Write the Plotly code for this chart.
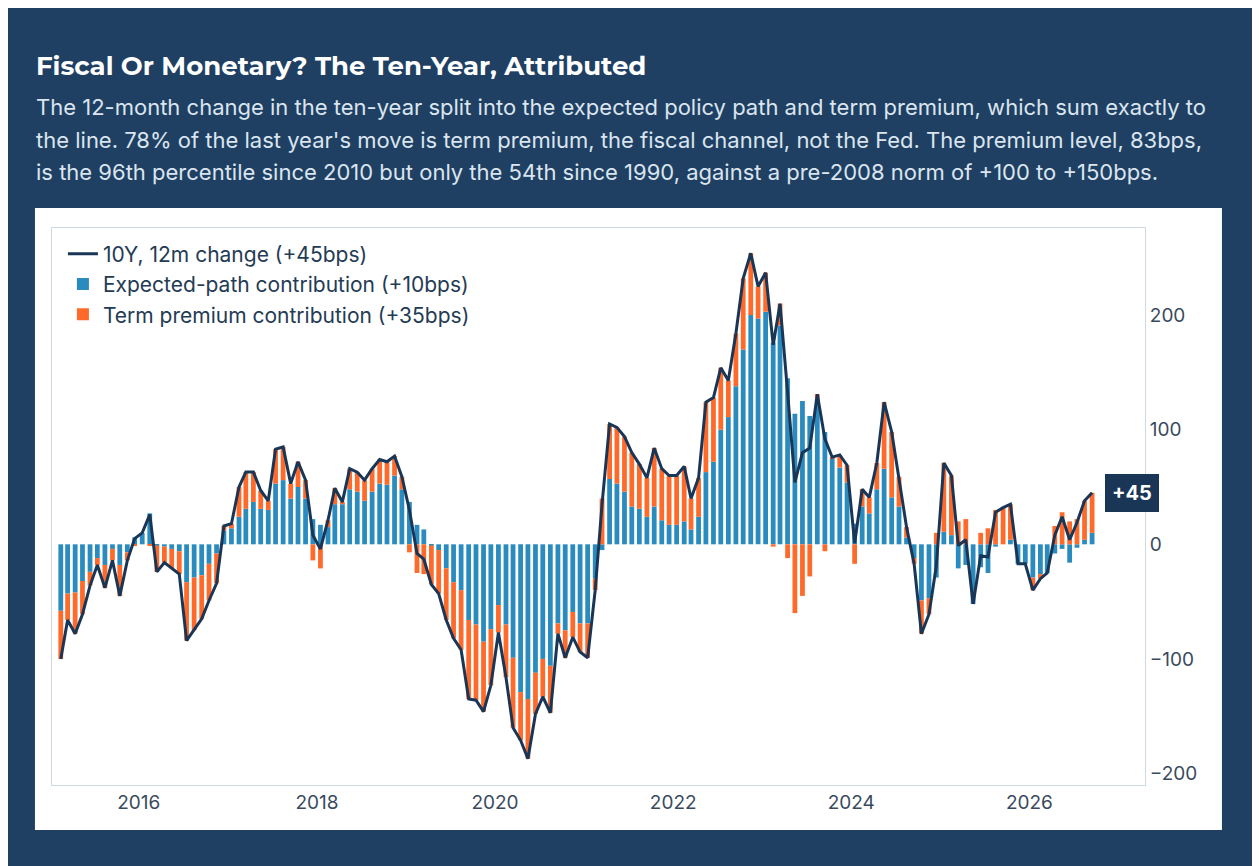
import pandas as pd
import plotly.graph_objects as go

# monthly dates, Jan 2015 .. Aug 2026
months = pd.date_range("2015-01-15", periods=140, freq="MS") + pd.Timedelta(days=14)

total = [
    -100, -66, -78, -61, -36, -18, -38, -14, -45, -14, 5, 10,
    26, -24, -16, -21, -26, -84, -75, -65, -49, -34, 16, 18,
    50, 63, 63, 47, 38, 83, 85, 53, 72, 56, 8, -4,
    21, 49, 37, 66, 63, 56, 66, 74, 72, 77, 59, 30,
    -8, -13, -35, -43, -66, -82, -92, -135, -136, -146, -123, -77,
    -116, -160, -171, -187, -148, -133, -147, -78, -99, -81, -94, -99,
    -40, 35, 105, 102, 94, 80, 70, 58, 84, 66, 60, 60,
    68, 40, 58, 124, 128, 154, 143, 184, 232, 254, 225, 237,
    174, 210, 133, 54, 80, 84, 131, 92, 76, 78, 69, 1,
    48, 41, 71, 124, 98, 59, 15, -17, -78, -61, -19, 71,
    60, -1, 4, -52, -10, -11, 28, 32, 35, -17, -17, -40,
    -30, -25, 8, 24, 4, 19, 38, 45,
]
expected = [
    -58, -43, -42, -32, -24, -12, -18, -4, -18, -7, 6, 10,
    27, -1, -2, -4, -6, -33, -29, -27, -17, -8, 12, 14,
    24, 31, 37, 31, 30, 53, 56, 40, 50, 40, 22, 17,
    15, 35, 35, 48, 46, 38, 46, 53, 52, 60, 48, 37,
    17, 13, -1, -5, -21, -33, -40, -66, -70, -85, -74, -53,
    -70, -99, -129, -135, -112, -100, -106, -69, -75, -59, -69, -69,
    -30, -5, 57, 53, 46, 33, 31, 24, 33, 21, 17, 17,
    20, 13, 24, 63, 72, 100, 111, 138, 170, 200, 197, 203,
    176, 191, 145, 114, 125, 112, 127, 98, 75, 67, 54, 18,
    33, 27, 48, 66, 41, 33, 6, -12, -49, -47, -29, 11,
    8, -21, -18, -52, -20, -25, -2, 0, 4, -17, -17, -29,
    -26, -25, -8, -4, -16, -3, 4, 10,
]
term = [t - e for t, e in zip(total, expected)]

subtitle_lines = [
    "The 12-month change in the ten-year split into the expected policy path and term premium, which sum exactly to",
    "the line. 78% of the last year's move is term premium, the fiscal channel, not the Fed. The premium level, 83bps,",
    "is the 96th percentile since 2010 but only the 54th since 1990, against a pre-2008 norm of +100 to +150bps.",
]

NAVY = "#1f4063"
BLUE = "#2a8bbf"
ORANGE = "#ff6a2a"
LINE = "#1a3657"

fig = go.Figure()
fig.add_trace(go.Bar(x=months, y=expected, name="Expected-path contribution (+10bps)",
                     marker=dict(color=BLUE, line_width=0), legendrank=2))
fig.add_trace(go.Bar(x=months, y=term, name="Term premium contribution (+35bps)",
                     marker=dict(color=ORANGE, line_width=0), legendrank=3))
fig.add_trace(go.Scatter(x=months, y=total, name="10Y, 12m change (+45bps)", mode="lines",
                         line=dict(color=LINE, width=3), legendrank=1))

fig.add_vrect(x0="2020-02-01", x1="2020-04-20", fillcolor="#d5dbe3", opacity=0.7,
              line_width=0, layer="below")
fig.add_shape(type="line", xref="paper", x0=0, x1=1, y0=0, y1=0,
              line=dict(color="#d5dbe3", width=1.5, dash="dash"), layer="below")

# white card behind the plot
fig.add_shape(type="rect", xref="paper", yref="paper", x0=-0.0156, x1=1.0704,
              y0=-0.0808, y1=1.0359, fillcolor="white", line_width=0, layer="below")

fig.add_annotation(xref="paper", yref="paper", x=-0.0165, y=1.2908, xanchor="left", yanchor="middle",
                   text="<b>Fiscal Or Monetary? The Ten-Year, Attributed</b>", showarrow=False,
                   font=dict(family="Montserrat, Inter", size=26, color="white"))
for i, line in enumerate(subtitle_lines):
    fig.add_annotation(xref="paper", yref="paper", x=-0.0165, y=1.2172 - i * 0.0585,
                       xanchor="left", yanchor="middle", showarrow=False, text=line,
                       font=dict(family="Inter", size=22, color="#dbe5ef"))
fig.add_annotation(x=months[-1], y=total[-1], xshift=40, text="<b>+45</b>", showarrow=False,
                   bgcolor=LINE, bordercolor=LINE, borderpad=6, font=dict(family="Inter", size=20, color="white"))

fig.update_layout(
    width=1260, height=866,
    margin=dict(l=44, r=123, t=220, b=89),
    paper_bgcolor=NAVY, plot_bgcolor="rgba(0,0,0,0)",
    barmode="relative", bargap=0.3,
    font=dict(family="Inter", color="#3a4a5e", size=19),
    legend=dict(x=0.01, y=0.99, xanchor="left", yanchor="top", bgcolor="rgba(255,255,255,0.8)",
                font=dict(size=21, color="#243b55")),
    xaxis=dict(range=["2015-01-10", "2027-04-20"], showgrid=False, showline=True, mirror=True,
               linecolor="#d0d8e2", ticks="", dtick="M24", tickformat="%Y", tick0="2016-01-01"),
    yaxis=dict(range=[-210, 276], side="right", showgrid=False, zeroline=False, showline=True,
               mirror=True, linecolor="#d0d8e2", tickvals=[-200, -100, 0, 100, 200],
               ticktext=["\u2212200", "\u2212100", "0", "100", "200"]),
)

fig.write_html("out.html")
